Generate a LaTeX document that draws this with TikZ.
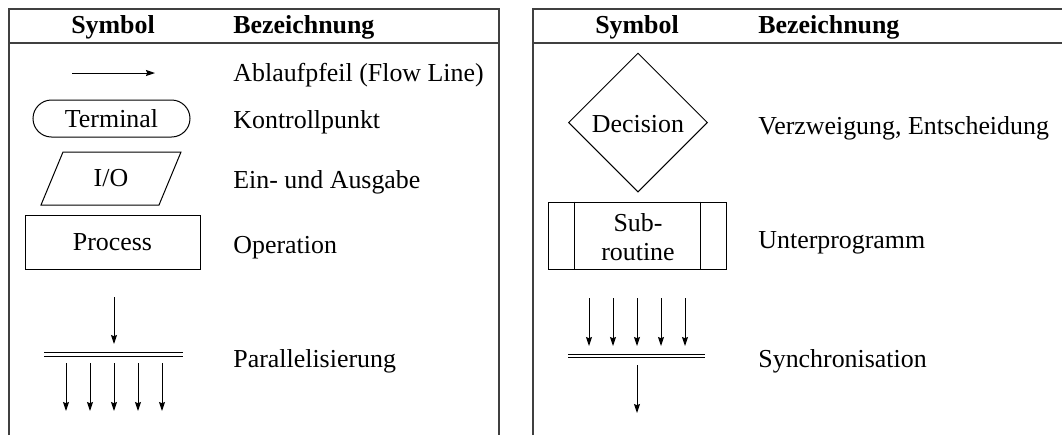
\documentclass[tikz,border=0pt]{standalone}
\usepackage{fontspec}
\setmainfont{Liberation Serif}
\usetikzlibrary{shapes.geometric,shapes.misc,arrows.meta}
\begin{document}
\begin{tikzpicture}[
  x=0.5pt, y=-0.5pt,
  font=\fontsize{12.95}{13.5}\selectfont,
  frame/.style={draw=black!75, line width=0.6pt},
  desc/.style={anchor=base west, inner sep=0pt},
  head/.style={font=\fontsize{12.95}{13.5}\selectfont\bfseries, inner sep=0pt},
  symbox/.style={draw, line width=0.5pt, inner sep=0pt},
  flow/.style={line width=0.5pt, -{Stealth[length=4.5pt,width=3pt,inset=0.6pt]}},
  bar/.style={double, double distance=1.1pt, line width=0.5pt},
]
\useasboundingbox (0,0) rectangle (1062,435);

% ---------- left table frame ----------
\draw[frame] (9,435) -- (9,9) -- (499,9) -- (499,435);
\draw[frame] (9,43) -- (499,43);
\node[head, anchor=base] (hsymL) at (113,33) {Symbol};
\node[head, anchor=base west] (hdescL) at (233,33) {Bezeichnung};

% flow line
\coordinate (flowA) at (72,73);
\coordinate (flowB) at (155,73);
\draw[flow] (flowA) -- (flowB);
\node[desc] (dflow) at (233,81) {Ablaufpfeil (Flow Line)};

% terminal
\node[symbox, rounded rectangle, minimum width=78.5pt, minimum height=18.5pt] (term) at (111.5,118.5) {Terminal};
\node[desc] (dterm) at (233,128) {Kontrollpunkt};

% input / output
\node[inner sep=0pt] (io) at (111,178.5) {I/O};
\draw[line width=0.5pt] (io.center) ++(-70,26.5) coordinate (ioBL) -- ++(22,-53) coordinate (ioTL)
  -- ++(118,0) coordinate (ioTR) -- ++(-22,53) coordinate (ioBR) -- cycle;
\node[desc] (dio) at (233,188) {Ein- und Ausgabe};

% process
\node[symbox, rectangle, minimum width=87.5pt, minimum height=27pt] (proc) at (112.5,242) {Process};
\node[desc] (dproc) at (233,253) {Operation};

% parallelisation
\coordinate (parIn) at (114,297);
\coordinate (parL) at (44,354.5);
\coordinate (parR) at (183,354.5);
\draw[bar] (parL) -- (parR);
\draw[flow] (parIn) -- (114,344);
\foreach \px/\nm in {66/a,90/b,114/c,138/d,162/e}{
  \coordinate (parOut\nm) at (\px,411);
  \draw[flow] (\px,363) -- (parOut\nm);
}
\node[desc] (dpar) at (233,367) {Parallelisierung};

% ---------- right table frame ----------
\draw[frame] (533,435) -- (533,9) -- (1062,9);
\draw[frame] (533,43) -- (1062,43);
\node[head, anchor=base] (hsymR) at (637,33) {Symbol};
\node[head, anchor=base west] (hdescR) at (758,33) {Bezeichnung};

% decision
\node[symbox, diamond, minimum width=69.5pt, minimum height=69.5pt] (dec) at (638,122.5) {};
\node[inner sep=0pt, anchor=base] (dectext) at (638,132) {Decision};
\node[desc] (ddec) at (758,134) {Verzweigung, Entscheidung};

% subroutine
\node[symbox, rectangle, minimum width=89pt, minimum height=33.5pt] (sub) at (637,235.5) {};
\node[inner sep=0pt, align=center, font=\fontsize{12.95}{14.5}\selectfont] (subtext) at (638,237) {Sub-\\routine};
\draw[line width=0.5pt] ([xshift=13.5pt]sub.north west) -- ([xshift=13.5pt]sub.south west);
\draw[line width=0.5pt] ([xshift=-13pt]sub.north east) -- ([xshift=-13pt]sub.south east);
\node[desc] (dsub) at (758,248) {Unterprogramm};

% synchronisation
\coordinate (synL) at (568,356);
\coordinate (synR) at (705,356);
\draw[bar] (synL) -- (synR);
\foreach \px/\nm in {589/a,613/b,637/c,661/d,685/e}{
  \coordinate (synIn\nm) at (\px,298);
  \draw[flow] (synIn\nm) -- (\px,346);
}
\coordinate (synOut) at (637,413);
\draw[flow] (637,365) -- (synOut);
\node[desc] (dsyn) at (758,367) {Synchronisation};
\end{tikzpicture}
\end{document}
